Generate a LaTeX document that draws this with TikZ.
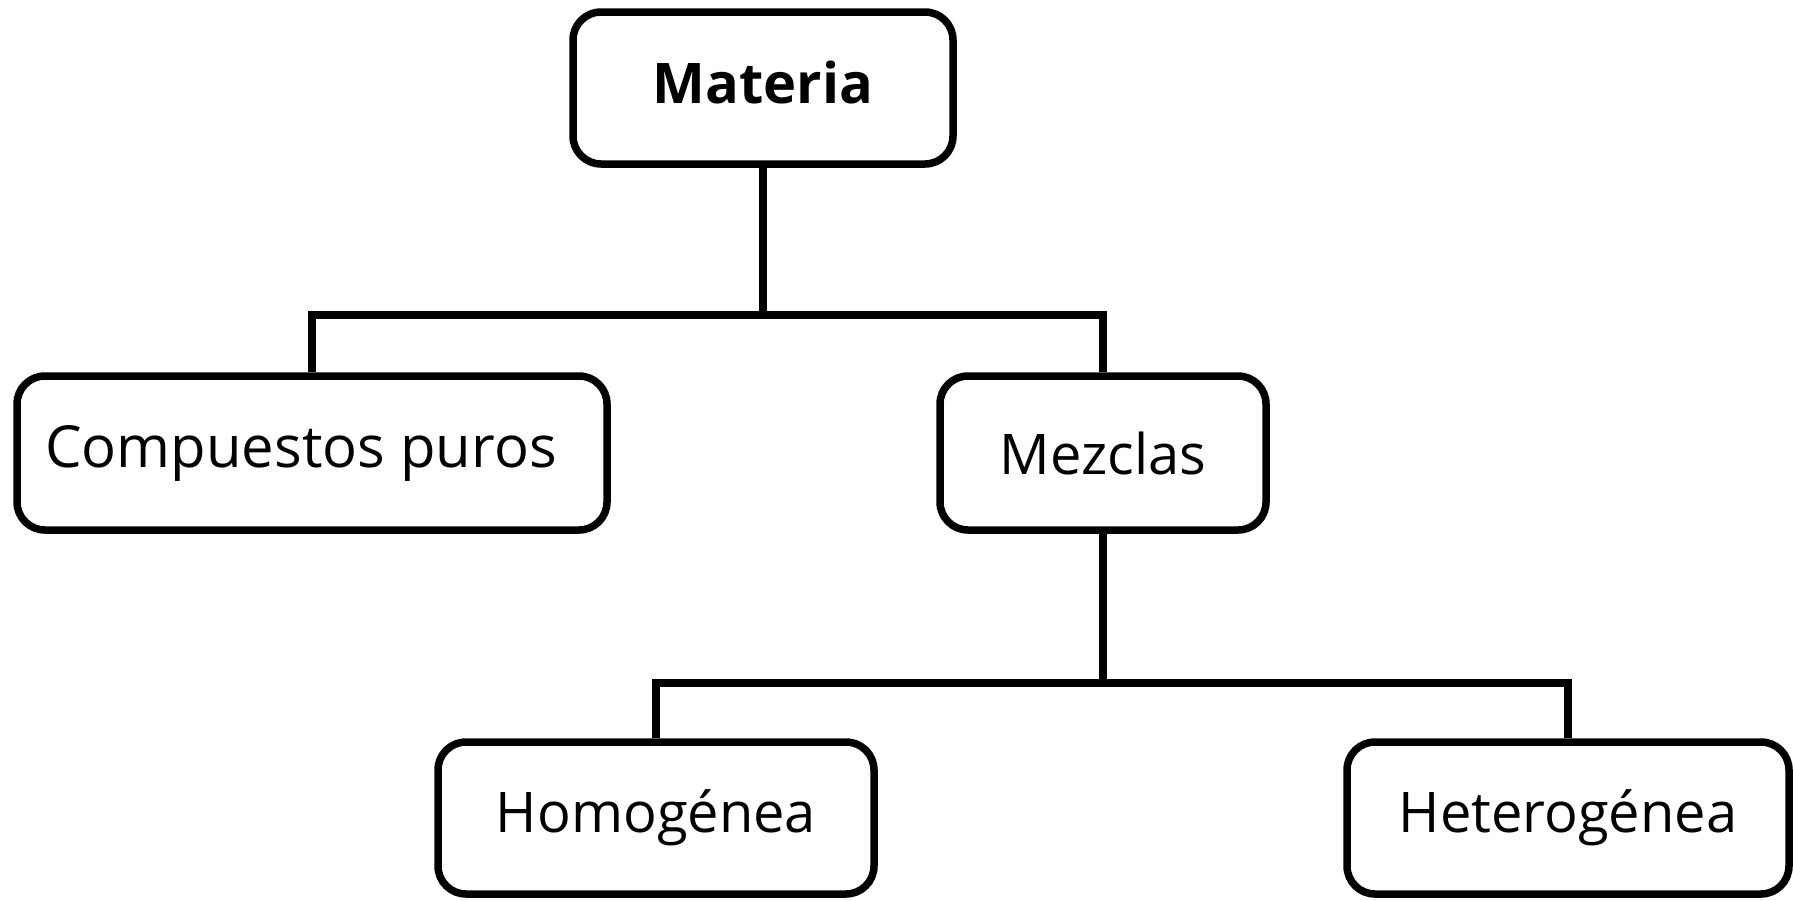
\documentclass[tikz,border=0pt]{standalone}
\usepackage{fontspec}
\setmainfont{Open Sans}
\begin{document}
\begin{tikzpicture}[x=1pt,y=-1pt,
  box/.style={draw=black, line width=7.5pt, rounded corners=28pt, fill=white,
    inner sep=0pt, align=center, font=\fontsize{56}{62}\selectfont},
  conn/.style={draw=black, line width=7.5pt}]
\useasboundingbox (0,0) rectangle (1793,900);
\node[box, font=\fontsize{56}{62}\selectfont\bfseries, text depth=12pt, minimum width=380pt, minimum height=152pt] (mat) at (763,88) {Materia};
\node[box, minimum width=590pt, minimum height=154pt] (comp) at (312,453) {\fontsize{58}{62}\selectfont Compuestos puros\hspace*{22pt}};
\node[box, minimum width=326pt, minimum height=154pt] (mez) at (1103,453) {Mezclas};
\node[box, minimum width=436pt, minimum height=152pt] (hom) at (656,818) {Homogénea};
\node[box, minimum width=442pt, minimum height=152pt] (het) at (1568,818) {Heterogénea};
\coordinate (b1) at (763,315);
\coordinate (b2) at (1103,683);
\draw[conn] (mat.south) -- (b1);
\draw[conn] (comp.north) |- (b1) -| (mez.north);
\draw[conn] (mez.south) -- (b2);
\draw[conn] (hom.north) |- (b2) -| (het.north);
\end{tikzpicture}
\end{document}
